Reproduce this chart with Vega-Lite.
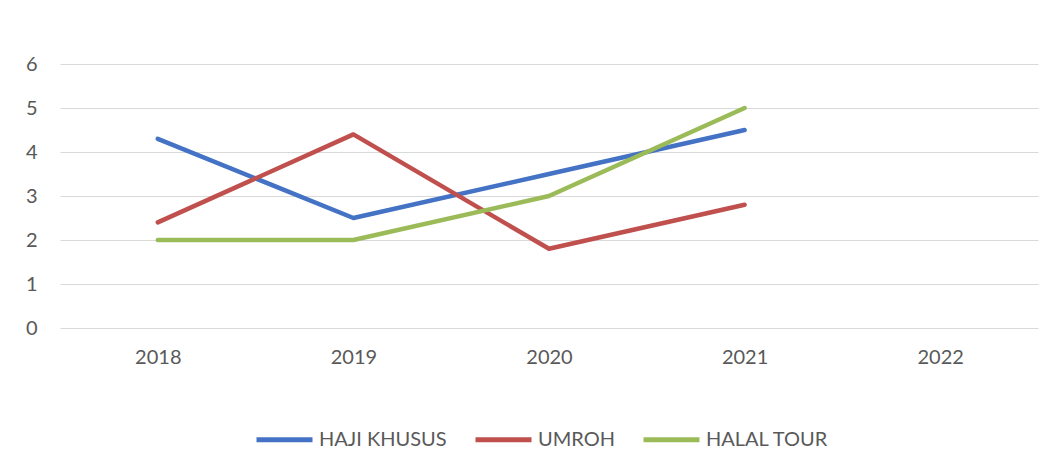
{
  "$schema": "https://vega.github.io/schema/vega-lite/v6.json",
  "width": 978,
  "height": 264,
  "autosize": "none",
  "padding": {"left": 60, "top": 64, "right": 20, "bottom": 142},
  "background": "white",
  "config": {
    "view": {"stroke": null},
    "font": "Lato",
    "axis": {"labelFont": "Lato", "labelFontSize": 20, "labelColor": "#595959"},
    "legend": {"labelFont": "Lato", "labelFontSize": 20, "labelColor": "#595959"}
  },
  "data": {
    "values": [
      {"year": "2018", "series": "HAJI KHUSUS", "value": 4.3},
      {"year": "2019", "series": "HAJI KHUSUS", "value": 2.5},
      {"year": "2020", "series": "HAJI KHUSUS", "value": 3.5},
      {"year": "2021", "series": "HAJI KHUSUS", "value": 4.5},
      {"year": "2018", "series": "UMROH", "value": 2.4},
      {"year": "2019", "series": "UMROH", "value": 4.4},
      {"year": "2020", "series": "UMROH", "value": 1.8},
      {"year": "2021", "series": "UMROH", "value": 2.8},
      {"year": "2018", "series": "HALAL TOUR", "value": 2},
      {"year": "2019", "series": "HALAL TOUR", "value": 2},
      {"year": "2020", "series": "HALAL TOUR", "value": 3},
      {"year": "2021", "series": "HALAL TOUR", "value": 5}
    ]
  },
  "mark": {"type": "line", "strokeWidth": 4.5, "strokeCap": "round", "strokeJoin": "round"},
  "encoding": {
    "x": {
      "field": "year", "type": "ordinal",
      "scale": {"type": "point", "padding": 0.5, "domain": ["2018", "2019", "2020", "2021", "2022"]},
      "axis": {"title": null, "labelAngle": 0, "domain": false, "ticks": false, "labelPadding": 19, "grid": false}
    },
    "y": {
      "field": "value", "type": "quantitative",
      "scale": {"domain": [0, 6], "nice": false},
      "axis": {"title": null, "values": [0,1,2,3,4,5,6], "labelOverlap": false, "domain": false, "ticks": false, "labelPadding": 23, "gridColor": "#d9d9d9", "gridWidth": 1.2}
    },
    "color": {
      "field": "series", "type": "nominal",
      "scale": {"domain": ["HAJI KHUSUS", "UMROH", "HALAL TOUR"], "range": ["#4472C4", "#C0504D", "#9BBB59"]},
      "legend": {
        "title": null, "orient": "none", "direction": "horizontal",
        "legendX": 194, "legendY": 345,
        "symbolType": "stroke", "symbolSize": 3136, "symbolStrokeWidth": 5,
        "labelOffset": 4, "columnPadding": 18
      }
    }
  }
}
